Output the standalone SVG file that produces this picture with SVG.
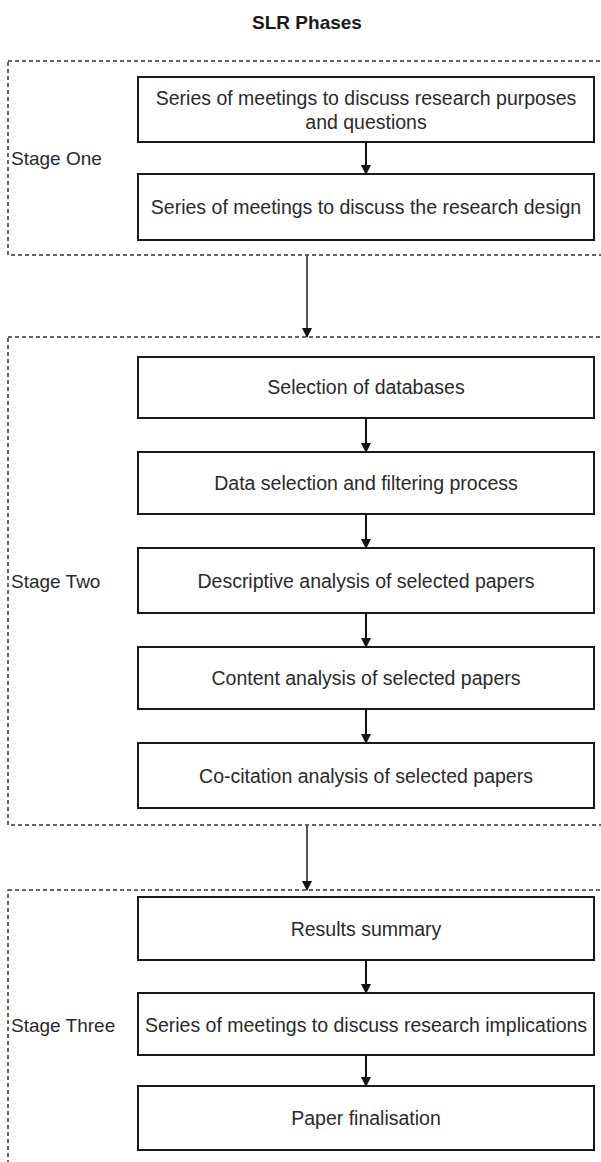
<svg xmlns="http://www.w3.org/2000/svg" width="601" height="1162" viewBox="0 0 601 1162">
<style>
.stage{fill:none;stroke:#333;stroke-width:1.5;stroke-dasharray:4 3}
.box{fill:#fff;stroke:#1a1a1a;stroke-width:2}
.t{font-family:"Liberation Sans",Arial,sans-serif;font-size:19.5px;fill:#2a2a2a;text-anchor:middle}
.lbl{font-family:"Liberation Sans",Arial,sans-serif;font-size:19px;fill:#2a2a2a}
.title{font-family:"Liberation Sans",Arial,sans-serif;font-size:19px;font-weight:bold;fill:#1a1a1a;text-anchor:middle}
.c{stroke:#111;stroke-width:2;fill:none}
.cg{stroke:#555;stroke-width:2;fill:none}
</style>
<defs>
<marker id="ah" markerWidth="10" markerHeight="10" refX="9" refY="5" orient="auto" markerUnits="userSpaceOnUse">
<path d="M0,0 L10,5 L0,10 Z" fill="#111"/>
</marker>
</defs>
<rect width="601" height="1162" fill="#fff"/>
<text class="title" x="307" y="29">SLR Phases</text>

<g id="stage1">
<rect class="stage" x="8" y="61" width="610" height="194"/>
<text class="lbl" x="11" y="165">Stage One</text>
</g>
<g id="stage2">
<rect class="stage" x="8" y="337" width="610" height="488"/>
<text class="lbl" x="11" y="588">Stage Two</text>
</g>
<g id="stage3">
<rect class="stage" x="8" y="890" width="610" height="290"/>
<text class="lbl" x="11" y="1032">Stage Three</text>
</g>

<g id="n1"><rect class="box" x="138" y="77" width="456" height="65"/>
<text class="t" x="366" y="105">Series of meetings to discuss research purposes</text>
<text class="t" x="366" y="129">and questions</text></g>
<g id="n2"><rect class="box" x="138" y="174" width="456" height="66"/>
<text class="t" x="366" y="214">Series of meetings to discuss the research design</text></g>

<g id="n3"><rect class="box" x="138" y="357" width="456" height="61"/>
<text class="t" x="366" y="394">Selection of databases</text></g>
<g id="n4"><rect class="box" x="138" y="452" width="456" height="62"/>
<text class="t" x="366" y="490">Data selection and filtering process</text></g>
<g id="n5"><rect class="box" x="138" y="548" width="456" height="65"/>
<text class="t" x="366" y="588">Descriptive analysis of selected papers</text></g>
<g id="n6"><rect class="box" x="138" y="647" width="456" height="62"/>
<text class="t" x="366" y="685">Content analysis of selected papers</text></g>
<g id="n7"><rect class="box" x="138" y="743" width="456" height="65"/>
<text class="t" x="366" y="783">Co-citation analysis of selected papers</text></g>

<g id="n8"><rect class="box" x="138" y="897" width="456" height="63"/>
<text class="t" x="366" y="936">Results summary</text></g>
<g id="n9"><rect class="box" x="138" y="993" width="456" height="62"/>
<text class="t" x="366" y="1032">Series of meetings to discuss research implications</text></g>
<g id="n10"><rect class="box" x="138" y="1086" width="456" height="64"/>
<text class="t" x="366" y="1125">Paper finalisation</text></g>

<g id="connectors">
<line class="c" x1="366" y1="142" x2="366" y2="174" marker-end="url(#ah)"/>
<line class="cg" x1="307" y1="255" x2="307" y2="337" marker-end="url(#ah)"/>
<line class="c" x1="366" y1="418" x2="366" y2="452" marker-end="url(#ah)"/>
<line class="c" x1="366" y1="514" x2="366" y2="548" marker-end="url(#ah)"/>
<line class="c" x1="366" y1="613" x2="366" y2="647" marker-end="url(#ah)"/>
<line class="c" x1="366" y1="709" x2="366" y2="743" marker-end="url(#ah)"/>
<line class="cg" x1="307" y1="825" x2="307" y2="890" marker-end="url(#ah)"/>
<line class="c" x1="366" y1="960" x2="366" y2="993" marker-end="url(#ah)"/>
<line class="c" x1="366" y1="1055" x2="366" y2="1086" marker-end="url(#ah)"/>
</g>
</svg>
